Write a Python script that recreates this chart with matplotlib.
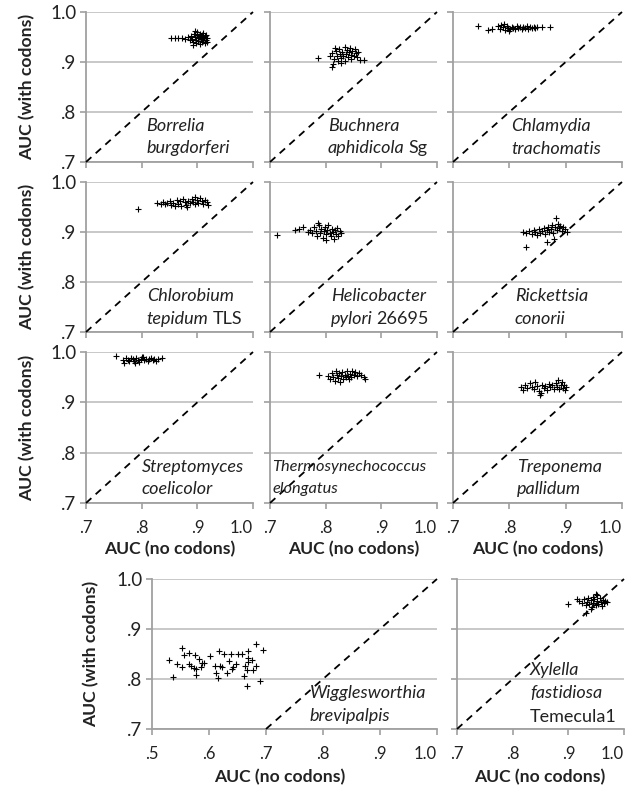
import matplotlib
matplotlib.use("Agg")
import matplotlib.pyplot as plt
from matplotlib.ticker import FuncFormatter

# AUC with codon features vs. AUC without, one panel per genome
borrelia_x = [0.853, 0.860, 0.866, 0.872, 0.878, 0.883, 0.886, 0.888, 0.890, 0.892, 0.894, 0.895,
              0.897, 0.898, 0.899, 0.900, 0.901, 0.902, 0.903, 0.904, 0.905, 0.906, 0.907, 0.908,
              0.909, 0.910, 0.911, 0.912, 0.913, 0.914, 0.915, 0.916, 0.917, 0.918, 0.896, 0.893]
borrelia_y = [0.949, 0.949, 0.949, 0.948, 0.946, 0.950, 0.944, 0.953, 0.946, 0.940, 0.957, 0.950,
              0.944, 0.938, 0.955, 0.960, 0.948, 0.942, 0.952, 0.936, 0.957, 0.946, 0.950, 0.940,
              0.954, 0.944, 0.958, 0.948, 0.938, 0.952, 0.945, 0.955, 0.941, 0.949, 0.962, 0.935]

buchnera_x = [0.786, 0.811, 0.814, 0.862, 0.869, 0.808, 0.812, 0.815, 0.818, 0.820, 0.822, 0.824,
              0.826, 0.828, 0.830, 0.832, 0.834, 0.835, 0.837, 0.838, 0.840, 0.842, 0.843, 0.845,
              0.846, 0.848, 0.850, 0.852, 0.854, 0.856, 0.858, 0.828, 0.817]
buchnera_y = [0.909, 0.891, 0.897, 0.905, 0.905, 0.912, 0.918, 0.906, 0.922, 0.912, 0.902, 0.927,
              0.916, 0.908, 0.920, 0.912, 0.930, 0.903, 0.917, 0.924, 0.910, 0.920, 0.928, 0.906,
              0.915, 0.922, 0.912, 0.926, 0.918, 0.910, 0.921, 0.898, 0.928]

chlamydia_x = [0.744, 0.762, 0.769, 0.858, 0.872, 0.780, 0.783, 0.786, 0.789, 0.792, 0.795, 0.798,
               0.801, 0.804, 0.807, 0.810, 0.813, 0.816, 0.819, 0.822, 0.825, 0.828, 0.831, 0.834,
               0.837, 0.840, 0.843, 0.846, 0.849, 0.800, 0.790]
chlamydia_y = [0.973, 0.964, 0.966, 0.970, 0.970, 0.972, 0.967, 0.975, 0.970, 0.964, 0.972, 0.968,
               0.966, 0.971, 0.969, 0.967, 0.972, 0.968, 0.970, 0.966, 0.971, 0.969, 0.972, 0.967,
               0.970, 0.968, 0.971, 0.969, 0.970, 0.962, 0.977]

chlorobium_x = [0.793, 0.828, 0.834, 0.838, 0.842, 0.846, 0.850, 0.853, 0.856, 0.860, 0.863, 0.866,
                0.868, 0.871, 0.874, 0.877, 0.880, 0.884, 0.887, 0.890, 0.893, 0.896, 0.899, 0.902,
                0.905, 0.908, 0.911, 0.914, 0.917, 0.920, 0.895, 0.882]
chlorobium_y = [0.947, 0.958, 0.957, 0.960, 0.956, 0.958, 0.962, 0.955, 0.959, 0.953, 0.964, 0.957,
                0.962, 0.953, 0.966, 0.960, 0.955, 0.963, 0.958, 0.966, 0.961, 0.956, 0.964, 0.959,
                0.968, 0.962, 0.957, 0.965, 0.960, 0.954, 0.970, 0.951]

helico_x = [0.712, 0.745, 0.752, 0.759, 0.768, 0.772, 0.776, 0.779, 0.782, 0.785, 0.788, 0.790,
            0.792, 0.795, 0.797, 0.799, 0.801, 0.803, 0.805, 0.807, 0.809, 0.811, 0.813, 0.815,
            0.817, 0.819, 0.821, 0.823, 0.825, 0.828, 0.786, 0.800]
helico_y = [0.894, 0.905, 0.906, 0.911, 0.900, 0.905, 0.898, 0.911, 0.903, 0.893, 0.914, 0.899,
            0.906, 0.888, 0.902, 0.910, 0.896, 0.905, 0.915, 0.899, 0.892, 0.907, 0.901, 0.886,
            0.904, 0.897, 0.909, 0.893, 0.902, 0.898, 0.919, 0.884]

rickettsia_x = [0.830, 0.824, 0.830, 0.835, 0.840, 0.843, 0.846, 0.849, 0.852, 0.855, 0.858, 0.861,
                0.863, 0.866, 0.867, 0.869, 0.871, 0.874, 0.876, 0.878, 0.879, 0.881, 0.883, 0.884,
                0.886, 0.888, 0.890, 0.893, 0.896, 0.899, 0.902]
rickettsia_y = [0.870, 0.901, 0.898, 0.903, 0.897, 0.905, 0.900, 0.894, 0.906, 0.899, 0.903, 0.908,
                0.896, 0.905, 0.881, 0.911, 0.901, 0.907, 0.914, 0.899, 0.887, 0.910, 0.928, 0.904,
                0.917, 0.908, 0.913, 0.902, 0.910, 0.906, 0.900]

strepto_x = [0.754, 0.767, 0.769, 0.772, 0.775, 0.778, 0.781, 0.784, 0.787, 0.790, 0.793, 0.796,
             0.799, 0.802, 0.805, 0.808, 0.811, 0.814, 0.817, 0.820, 0.823, 0.826, 0.829, 0.836,
             0.788, 0.800]
strepto_y = [0.993, 0.984, 0.979, 0.988, 0.985, 0.982, 0.989, 0.986, 0.983, 0.988, 0.985, 0.981,
             0.987, 0.990, 0.984, 0.987, 0.982, 0.986, 0.989, 0.984, 0.987, 0.983, 0.986, 0.989,
             0.978, 0.991]

thermo_x = [0.788, 0.805, 0.808, 0.811, 0.814, 0.816, 0.818, 0.820, 0.822, 0.824, 0.826, 0.828,
            0.830, 0.832, 0.834, 0.836, 0.838, 0.840, 0.842, 0.844, 0.846, 0.848, 0.850, 0.853,
            0.856, 0.860, 0.864, 0.868, 0.871]
thermo_y = [0.955, 0.952, 0.946, 0.958, 0.950, 0.943, 0.962, 0.954, 0.948, 0.958, 0.941, 0.952,
            0.960, 0.947, 0.955, 0.950, 0.962, 0.952, 0.946, 0.957, 0.951, 0.963, 0.955, 0.960,
            0.953, 0.958, 0.955, 0.950, 0.946]

trepo_x = [0.820, 0.824, 0.828, 0.832, 0.836, 0.840, 0.843, 0.846, 0.849, 0.852, 0.854, 0.856,
           0.858, 0.861, 0.864, 0.867, 0.870, 0.873, 0.876, 0.879, 0.882, 0.885, 0.887, 0.889,
           0.891, 0.893, 0.895, 0.897, 0.899, 0.901]
trepo_y = [0.930, 0.925, 0.934, 0.928, 0.938, 0.931, 0.926, 0.940, 0.933, 0.922, 0.914, 0.918,
           0.935, 0.928, 0.932, 0.925, 0.936, 0.930, 0.934, 0.927, 0.938, 0.931, 0.945, 0.926,
           0.935, 0.940, 0.929, 0.934, 0.924, 0.931]

wiggles_x = [0.529, 0.537, 0.544, 0.553, 0.553, 0.557, 0.565, 0.565, 0.568, 0.573, 0.576, 0.577,
             0.578, 0.582, 0.586, 0.588, 0.591, 0.602, 0.610, 0.613, 0.616, 0.617, 0.619, 0.622,
             0.626, 0.631, 0.635, 0.638, 0.640, 0.642, 0.648, 0.651, 0.658, 0.662, 0.664, 0.666,
             0.668, 0.667, 0.669, 0.669, 0.676, 0.677, 0.683, 0.683, 0.689, 0.695]
wiggles_y = [0.839, 0.804, 0.830, 0.825, 0.862, 0.849, 0.852, 0.831, 0.827, 0.823, 0.849, 0.808,
             0.820, 0.840, 0.824, 0.833, 0.833, 0.847, 0.827, 0.813, 0.803, 0.857, 0.827, 0.824,
             0.850, 0.812, 0.837, 0.851, 0.820, 0.825, 0.831, 0.850, 0.850, 0.807, 0.827, 0.819,
             0.857, 0.787, 0.842, 0.835, 0.839, 0.819, 0.827, 0.871, 0.797, 0.859]

xylella_x = [0.899, 0.915, 0.920, 0.925, 0.928, 0.931, 0.932, 0.934, 0.936, 0.938, 0.940, 0.942,
             0.944, 0.945, 0.947, 0.949, 0.951, 0.952, 0.954, 0.956, 0.958, 0.960, 0.962, 0.964,
             0.966, 0.969, 0.940, 0.950]
xylella_y = [0.951, 0.961, 0.956, 0.953, 0.960, 0.933, 0.948, 0.955, 0.962, 0.950, 0.958, 0.945,
             0.965, 0.953, 0.960, 0.948, 0.956, 0.968, 0.951, 0.962, 0.955, 0.947, 0.959, 0.952,
             0.957, 0.954, 0.940, 0.970]

W, H = 634, 788
plt.rcParams['font.family'] = ['Lato', 'DejaVu Sans']

GRID = '#C4C4C4'
SPINE = '#A0A0A0'
INK = '#222222'
SMALL_TICKS = [0.7, 0.8, 0.9, 1.0]
WIDE_TICKS = [0.5, 0.6, 0.7, 0.8, 0.9, 1.0]
NAME_SIZE = 13

fig = plt.figure(figsize=(W / 100, H / 100), dpi=100)


def auc_fmt(v, pos=None):
    s = '%.1f' % v
    return s[1:] if s.startswith('0') else s


def add_panel(box, x, y, xticks, species, text_x, xlab=False, ylab=False, text_size=NAME_SIZE):
    left, top, right, bottom = box
    ax = fig.add_axes([left / W, 1 - bottom / H, (right - left) / W, (bottom - top) / H])
    ax.plot(x, y, '+', color='black', markersize=4.5, markeredgewidth=0.8, zorder=3)
    ax.plot([0.7, 1.0], [0.7, 1.0], color='black', lw=1.3, dashes=(4, 3.2),
            clip_on=False, zorder=4)
    ax.set_xlim(xticks[0], 1.0)
    ax.set_ylim(0.7, 1.0)
    ax.set_xticks(xticks)
    ax.set_yticks(SMALL_TICKS)
    ax.xaxis.set_major_formatter(FuncFormatter(auc_fmt))
    ax.yaxis.set_major_formatter(FuncFormatter(auc_fmt))
    ax.yaxis.grid(True, color=GRID, lw=1.3)
    ax.set_axisbelow(True)
    for side in ['top', 'right']:
        ax.spines[side].set_visible(False)
    for side in ['left', 'bottom']:
        ax.spines[side].set_color(SPINE)
        ax.spines[side].set_linewidth(1.3)
    ax.tick_params(axis='both', direction='out', length=4, width=1.2, color=SPINE,
                   labelcolor=INK)
    ax.tick_params(axis='x', pad=8, labelsize=12, labelbottom=xlab)
    ax.tick_params(axis='y', pad=3, labelsize=13.5, labelleft=ylab)
    # last x label sits inside the axis end, like the original
    ax.xaxis.get_major_ticks()[-1].label1.set_horizontalalignment('right')

    # species name: italic part, optional upright suffix on the same line
    line_y = 0.772
    for italic, plain in species:
        t = ax.text(text_x, line_y, italic, style='italic', fontsize=text_size,
                    va='center', ha='left', color=INK, zorder=5)
        if plain:
            ax.annotate(plain, xy=(1, 0), xycoords=t, xytext=(3, 0),
                        textcoords='offset points', va='bottom', ha='left',
                        fontsize=text_size, color=INK, zorder=5)
        line_y -= 0.045
    return ax


# rows of the 3x3 grid (pixel boxes)
cols = [(86, 253), (270, 437), (453, 622)]
rows = [(12, 162), (182, 332), (352, 503)]

add_panel((cols[0][0], rows[0][0], cols[0][1], rows[0][1]), borrelia_x, borrelia_y, SMALL_TICKS,
          [('Borrelia', None), ('burgdorferi', None)], 0.808, ylab=True)
add_panel((cols[1][0], rows[0][0], cols[1][1], rows[0][1]), buchnera_x, buchnera_y, SMALL_TICKS,
          [('Buchnera', None), ('aphidicola', 'Sg')], 0.804)
add_panel((cols[2][0], rows[0][0], cols[2][1], rows[0][1]), chlamydia_x, chlamydia_y, SMALL_TICKS,
          [('Chlamydia', None), ('trachomatis', None)], 0.804)

add_panel((cols[0][0], rows[1][0], cols[0][1], rows[1][1]), chlorobium_x, chlorobium_y, SMALL_TICKS,
          [('Chlorobium', None), ('tepidum', 'TLS')], 0.809, ylab=True)
add_panel((cols[1][0], rows[1][0], cols[1][1], rows[1][1]), helico_x, helico_y, SMALL_TICKS,
          [('Helicobacter', None), ('pylori', '26695')], 0.809)
add_panel((cols[2][0], rows[1][0], cols[2][1], rows[1][1]), rickettsia_x, rickettsia_y, SMALL_TICKS,
          [('Rickettsia', None), ('conorii', None)], 0.810)

add_panel((cols[0][0], rows[2][0], cols[0][1], rows[2][1]), strepto_x, strepto_y, SMALL_TICKS,
          [('Streptomyces', None), ('coelicolor', None)], 0.800, xlab=True, ylab=True)
add_panel((cols[1][0], rows[2][0], cols[1][1], rows[2][1]), thermo_x, thermo_y, SMALL_TICKS,
          [('Thermosynechococcus', None), ('elongatus', None)], 0.704, xlab=True, text_size=11.8)
add_panel((cols[2][0], rows[2][0], cols[2][1], rows[2][1]), trepo_x, trepo_y, SMALL_TICKS,
          [('Treponema', None), ('pallidum', None)], 0.813, xlab=True)

# bottom row
add_panel((152, 579, 437, 729), wiggles_x, wiggles_y, WIDE_TICKS,
          [('Wigglesworthia', None), ('brevipalpis', None)], 0.777, xlab=True, ylab=True)
xy_ax = add_panel((457, 579, 624, 729), xylella_x, xylella_y, SMALL_TICKS, [], 0.831, xlab=True)
xy_ax.text(0.831, 0.819, 'Xylella', style='italic', fontsize=NAME_SIZE, va='center', color=INK)
xy_ax.text(0.831, 0.772, 'fastidiosa', style='italic', fontsize=NAME_SIZE, va='center', color=INK)
xy_ax.text(0.831, 0.725, 'Temecula1', fontsize=NAME_SIZE, va='center', color=INK)

# axis titles
for top, bottom in rows:
    fig.text(27 / W, 1 - (top + bottom) / 2 / H, 'AUC (with codons)', rotation=90,
             fontsize=12.6, fontweight='bold', ha='center', va='center', color=INK)
fig.text(91 / W, 1 - 654 / H, 'AUC (with codons)', rotation=90,
         fontsize=12.6, fontweight='bold', ha='center', va='center', color=INK)
for left, right in cols:
    fig.text((left + right) / 2 / W, 1 - 549 / H, 'AUC (no codons)',
             fontsize=12.6, fontweight='bold', ha='center', va='center', color=INK)
fig.text(280 / W, 1 - 777 / H, 'AUC (no codons)', fontsize=12.6, fontweight='bold',
         ha='center', va='center', color=INK)
fig.text(540 / W, 1 - 777 / H, 'AUC (no codons)', fontsize=12.6, fontweight='bold',
         ha='center', va='center', color=INK)

fig.savefig('out.png', dpi=100)
plt.close(fig)
